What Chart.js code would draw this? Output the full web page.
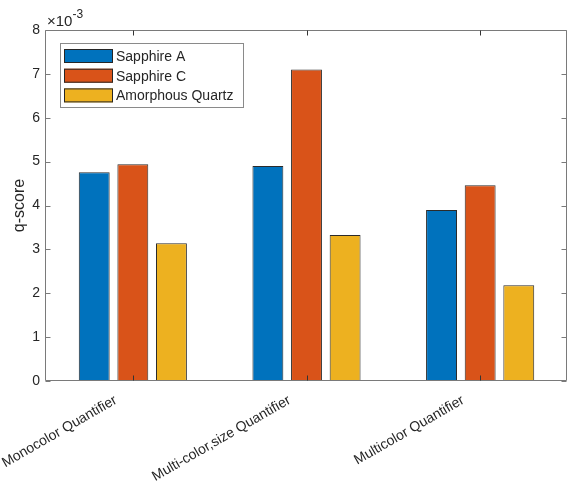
<!DOCTYPE html>
<html>
<head>
<meta charset="utf-8">
<script src="https://cdn.jsdelivr.net/npm/chart.js@4/dist/chart.umd.min.js"></script>
<style>
  html, body { margin: 0; padding: 0; background: #fff; }
</style>
</head>
<body>
<canvas id="c" width="568" height="494"></canvas>
<script>
var categories = ['Monocolor Quantifier', 'Multi-color,size Quantifier', 'Multicolor Quantifier'];
var seriesNames = ['Sapphire A', 'Sapphire C', 'Amorphous Quartz'];
var sapphireA = [0.00476, 0.00490, 0.00390];
var sapphireC = [0.00494, 0.00710, 0.00446];
var amorphousQuartz = [0.00314, 0.00333, 0.00218];
var seriesColors = ['#0072BD', '#D95319', '#EDB120'];
var yMax = 0.008;
var yStep = 0.001;
var yExponent = -3;

var fontFamily = "'Liberation Sans', Arial, Helvetica, sans-serif";
var axisColor = '#7a7a7a';
var textColor = '#262626';

// MATLAB style box with inward ticks on all four sides
var boxPlugin = {
  id: 'matlabBox',
  afterDatasetsDraw: function(chart){
    var ctx = chart.ctx;
    var a = chart.chartArea;
    var xs = chart.scales.x, ys = chart.scales.y;
    var tl = 5;
    var L = a.left - 0.5, R = a.right - 0.5, T = a.top + 0.5, B = a.bottom - 0.5;
    ctx.save();
    ctx.strokeStyle = axisColor;
    ctx.lineWidth = 1;
    ctx.beginPath();
    ctx.moveTo(L, T); ctx.lineTo(R, T); ctx.lineTo(R, B); ctx.lineTo(L, B); ctx.closePath();
    ys.ticks.forEach(function(t){
      var py = Math.round(ys.getPixelForValue(t.value)) + 0.5;
      ctx.moveTo(L, py); ctx.lineTo(L + tl, py);
      ctx.moveTo(R, py); ctx.lineTo(R - tl, py);
    });
    ctx.stroke();
    ctx.strokeStyle = '#333';
    ctx.beginPath();
    xs.ticks.forEach(function(t, i){
      var px = Math.round(xs.getPixelForValue(i)) + 0.5;
      ctx.moveTo(px, B); ctx.lineTo(px, B - tl);
      ctx.moveTo(px, T); ctx.lineTo(px, T + tl);
    });
    ctx.stroke();

    // exponent label above the y axis
    ctx.fillStyle = textColor;
    ctx.textBaseline = 'alphabetic';
    ctx.textAlign = 'left';
    ctx.font = '15px ' + fontFamily;
    var ex = a.left + 1, ey = a.top - 4;
    ctx.fillText('\u00d710', ex, ey);
    var w = ctx.measureText('\u00d710').width;
    ctx.font = '12px ' + fontFamily;
    ctx.fillText(String(yExponent), ex + w, ey - 8);
    ctx.restore();
  }
};

// legend drawn inside the axes, top-left
var legendPlugin = {
  id: 'boxLegend',
  afterDatasetsDraw: function(chart){
    var ctx = chart.ctx;
    var a = chart.chartArea;
    var x0 = a.left + 14, y0 = a.top + 13, w = 183, h = 64;
    ctx.save();
    ctx.fillStyle = '#fff';
    ctx.fillRect(x0, y0, w, h);
    ctx.strokeStyle = '#8a8a8a';
    ctx.lineWidth = 1;
    ctx.strokeRect(x0 + 0.5, y0 + 0.5, w, h);
    ctx.font = '14px ' + fontFamily;
    ctx.textBaseline = 'middle';
    chart.data.datasets.forEach(function(ds, i){
      var cy = y0 + 13 + i * 19.7;
      ctx.fillStyle = ds.backgroundColor;
      ctx.fillRect(x0 + 4, cy - 7, 49, 14);
      ctx.strokeStyle = '#262626';
      ctx.strokeRect(x0 + 4.5, cy - 6.5, 48, 13);
      ctx.fillStyle = textColor;
      ctx.fillText(ds.label, x0 + 56, cy + 1);
    });
    ctx.restore();
  }
};

var seriesData = [sapphireA, sapphireC, amorphousQuartz];

new Chart(document.getElementById('c'), {
  type: 'bar',
  data: {
    labels: categories,
    datasets: seriesData.map(function(d, i){
      return {
        label: seriesNames[i],
        data: d,
        backgroundColor: seriesColors[i],
        borderColor: '#2b2b2b',
        borderWidth: 1,
        borderSkipped: false
      };
    })
  },
  options: {
    responsive: false,
    animation: false,
    layout: { padding: { top: 30, right: 1, left: 0, bottom: 0 } },
    datasets: { bar: { categoryPercentage: 0.667, barPercentage: 0.8 } },
    plugins: {
      legend: { display: false },
      tooltip: { enabled: false }
    },
    scales: {
      x: {
        grid: { display: false },
        border: { display: false },
        ticks: {
          autoSkip: false,
          color: textColor,
          font: { family: fontFamily, size: 14 },
          minRotation: 30,
          maxRotation: 30,
          padding: 3,
          labelOffset: -17
        },
        afterFit: function(s){ s.height = 113; s.paddingLeft = 0; s.paddingRight = 0; }
      },
      y: {
        min: 0,
        max: yMax,
        grid: { display: false, drawTicks: false },
        border: { display: false },
        ticks: {
          stepSize: yStep,
          color: textColor,
          font: { family: fontFamily, size: 14 },
          padding: 6,
          callback: function(v){ return Math.round(v / Math.pow(10, yExponent)); }
        },
        title: {
          display: true,
          text: 'q-score',
          color: textColor,
          font: { family: fontFamily, size: 16 },
          padding: { top: 10, bottom: 0 }
        },
        afterFit: function(s){ s.width = 46; s.paddingTop = 0; s.paddingBottom = 0; }
      }
    }
  },
  plugins: [boxPlugin, legendPlugin]
});
</script>
</body>
</html>
